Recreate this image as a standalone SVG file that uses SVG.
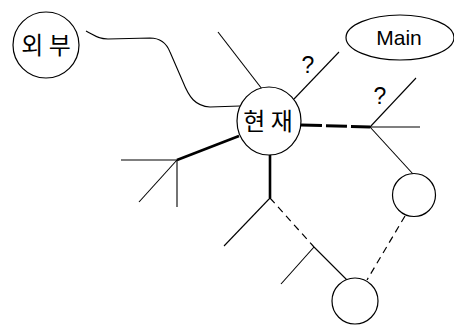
<svg xmlns="http://www.w3.org/2000/svg" width="454" height="327" viewBox="0 0 454 327">
  <style>
    .node { fill: #ffffff; stroke: #000000; stroke-width: 1.2; }
    .thin { fill: none; stroke: #000000; stroke-width: 1.1; }
    .thick { fill: none; stroke: #000000; stroke-width: 2.6; }
    .dash-thick { fill: none; stroke: #000000; stroke-width: 3; stroke-dasharray: 21 4; }
    .dash-thin { fill: none; stroke: #000000; stroke-width: 1.2; stroke-dasharray: 7 5; }
    .ko { font-family: "Noto Sans CJK KR", "Noto Sans", sans-serif; font-size: 24px; fill: #000000; }
    .lat { font-family: "Liberation Sans", Arial, sans-serif; fill: #000000; }
  </style>
  <rect width="454" height="327" fill="#ffffff"/>

  <g id="connectors">
    <!-- wavy link from the outside node -->
    <path class="thin" d="M86,31 C94,35 98,39 108,39 L150,38 C160,38 166,42 170,52 L183,82 C189,97 195,106 210,107 L240,106"/>
    <!-- spokes around the centre node -->
    <line class="thin" x1="218" y1="32" x2="262" y2="89"/>
    <line class="thin" x1="294" y1="99" x2="339" y2="52"/>
    <line class="dash-thick" x1="301" y1="125" x2="370" y2="127"/>
    <line class="thick" x1="239" y1="136" x2="177" y2="160"/>
    <line class="thick" x1="270" y1="154" x2="270" y2="198"/>
    <!-- right fork -->
    <line class="thin" x1="370" y1="127" x2="416" y2="78"/>
    <line class="thin" x1="370" y1="127" x2="420" y2="127"/>
    <line class="thin" x1="370" y1="127" x2="413" y2="174"/>
    <line class="dash-thin" x1="405" y1="216" x2="367" y2="280"/>
    <!-- left fork -->
    <line class="thin" x1="121" y1="160" x2="177" y2="160"/>
    <line class="thin" x1="177" y1="160" x2="177" y2="207"/>
    <line class="thin" x1="177" y1="160" x2="139" y2="202"/>
    <!-- lower fork -->
    <line class="thin" x1="270" y1="198" x2="224" y2="246"/>
    <line class="dash-thin" x1="270" y1="198" x2="314" y2="247"/>
    <line class="thin" x1="314" y1="247" x2="347" y2="280"/>
    <line class="thin" x1="314" y1="247" x2="281" y2="284"/>
  </g>

  <g id="outside">
    <circle class="node" cx="46" cy="45" r="33"/>
    <text class="ko" x="46" y="54" text-anchor="middle">외 부</text>
  </g>

  <g id="current">
    <ellipse class="node" cx="269" cy="121" rx="32" ry="34"/>
    <text class="ko" x="268" y="130" text-anchor="middle">현 재</text>
  </g>

  <g id="main">
    <ellipse class="node" cx="400" cy="37.5" rx="54" ry="22.5"/>
    <text class="lat" x="399" y="45" font-size="21" text-anchor="middle">Main</text>
  </g>

  <g id="leaf-right">
    <circle class="node" cx="414" cy="195" r="21.5"/>
  </g>

  <g id="leaf-bottom">
    <circle class="node" cx="355" cy="301" r="23"/>
  </g>

  <g id="labels">
    <text class="lat" x="308" y="73" font-size="23" text-anchor="middle">?</text>
    <text class="lat" x="380" y="104" font-size="23" text-anchor="middle">?</text>
  </g>
</svg>
